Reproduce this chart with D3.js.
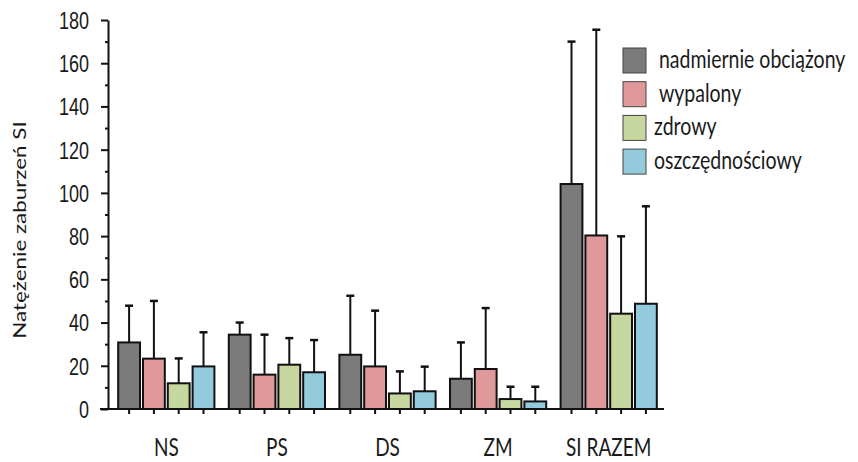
<!DOCTYPE html>
<html>
<head>
<meta charset="utf-8">
<script src="https://cdn.jsdelivr.net/npm/d3@7"></script>
<style>
  body { margin: 0; background: #fff; }
  text { fill: #1a1a1a; }
</style>
</head>
<body>
<div id="chart"></div>
<script>
// categories and series
const categories = ["NS", "PS", "DS", "ZM", "SI RAZEM"];
const seriesNames = ["nadmiernie obciążony", "wypalony", "zdrowy", "oszczędnościowy"];
const seriesColors = ["#7b7b7b", "#e0999a", "#c6d89f", "#93cbdd"];

// means per series (one value per category)
const obciazonyMean = [30.8, 34.4, 25.1, 14.0, 104.1];
const wypalonyMean = [23.3, 15.9, 19.7, 18.5, 80.3];
const zdrowyMean = [11.9, 20.5, 7.2, 4.6, 44.1];
const oszczednMean = [19.7, 17.0, 8.2, 3.5, 48.7];

// standard deviations (upper error bar)
const obciazonySd = [17.0, 5.6, 27.3, 16.8, 65.9];
const wypalonySd = [26.7, 18.5, 25.8, 28.2, 95.2];
const zdrowySd = [11.5, 12.3, 10.2, 5.7, 35.8];
const oszczednSd = [15.8, 14.9, 11.4, 6.8, 45.1];

const yTicks = [0, 20, 40, 60, 80, 100, 120, 140, 160, 180];

const means = [obciazonyMean, wypalonyMean, zdrowyMean, oszczednMean];
const sds = [obciazonySd, wypalonySd, zdrowySd, oszczednSd];

const w = 858;
const h = 462;
const stretch = 1.28; // the source picture is stretched vertically

const svg = d3.select("#chart")
  .append("svg")
  .attr("width", w)
  .attr("height", h);

const y = d3.scaleLinear()
  .domain([0, 180])
  .range([409, 20]);

const x0 = d3.scaleBand()
  .domain(categories)
  .range([111, 664])
  .paddingInner(0.13)
  .paddingOuter(0.065);

const x1 = d3.scaleBand()
  .domain(seriesNames)
  .range([0, x0.bandwidth()])
  .paddingInner(0.12);

// build rows: one per category x series
const rows = [];
categories.forEach((c, ci) => {
  seriesNames.forEach((s, si) => {
    rows.push({ cat: c, series: s, si: si, mean: means[si][ci], sd: sds[si][ci] });
  });
});

const barMid = d => x0(d.cat) + x1(d.series) + x1.bandwidth() / 2;

// error bars (drawn behind bars)
const err = svg.append("g").attr("stroke", "#111").attr("stroke-width", 2);
err.selectAll("line.v")
  .data(rows)
  .enter()
  .append("line")
  .attr("class", "v")
  .attr("x1", barMid)
  .attr("x2", barMid)
  .attr("y1", d => y(d.mean))
  .attr("y2", d => y(d.mean + d.sd));
err.selectAll("line.cap")
  .data(rows)
  .enter()
  .append("line")
  .attr("class", "cap")
  .attr("stroke-width", 2.5)
  .attr("x1", d => barMid(d) - 4)
  .attr("x2", d => barMid(d) + 4)
  .attr("y1", d => y(d.mean + d.sd))
  .attr("y2", d => y(d.mean + d.sd));

// bars
svg.selectAll("rect.bar")
  .data(rows)
  .enter()
  .append("rect")
  .attr("class", "bar")
  .attr("x", d => x0(d.cat) + x1(d.series))
  .attr("y", d => y(d.mean))
  .attr("width", x1.bandwidth())
  .attr("height", d => y(0) - y(d.mean))
  .attr("fill", d => seriesColors[d.si])
  .attr("stroke", "#111")
  .attr("stroke-width", 2);

// y axis
const yAxis = svg.append("g")
  .attr("transform", "translate(108,0)")
  .call(d3.axisLeft(y).tickValues(yTicks).tickSize(7).tickSizeOuter(0).tickPadding(12));
yAxis.select(".domain").attr("stroke", "#111").attr("stroke-width", 2);
yAxis.selectAll(".tick line").attr("stroke", "#111").attr("stroke-width", 2);
yAxis.selectAll(".tick text")
  .attr("font-family", "'Liberation Sans', Arial, sans-serif")
  .attr("font-size", 18)
  .attr("dy", null)
  .attr("y", 0)
  .attr("transform", "scale(1," + stretch + ")")
  .attr("dominant-baseline", "central");

// minor ticks
const minor = svg.append("g")
  .attr("transform", "translate(108,0)")
  .call(d3.axisLeft(y).tickValues(d3.range(10, 180, 20)).tickSize(3).tickFormat(""));
minor.select(".domain").remove();
minor.selectAll(".tick line").attr("stroke", "#111").attr("stroke-width", 2);

// x axis line with a tick under every bar
svg.append("line")
  .attr("x1", 100).attr("x2", 664)
  .attr("y1", y(0)).attr("y2", y(0))
  .attr("stroke", "#111").attr("stroke-width", 2);
svg.append("g").selectAll("line")
  .data(rows)
  .enter()
  .append("line")
  .attr("x1", barMid)
  .attr("x2", barMid)
  .attr("y1", y(0))
  .attr("y2", y(0) + 5)
  .attr("stroke", "#111").attr("stroke-width", 2);

// category labels
svg.append("g").selectAll("text")
  .data(categories)
  .enter()
  .append("text")
  .attr("transform", d => "translate(" + (x0(d) + x0.bandwidth() / 2) + ",456) scale(1," + stretch + ")")
  .attr("text-anchor", "middle")
  .attr("font-family", "Lato, 'Open Sans', sans-serif")
  .attr("font-size", 19)
  .text(d => d);

// y axis title
svg.append("text")
  .attr("transform", "translate(26,230) rotate(-90) scale(" + stretch + ",1)")
  .attr("text-anchor", "middle")
  .attr("font-family", "Lato, 'Open Sans', sans-serif")
  .attr("font-size", 17.5)
  .text("Natężenie zaburzeń SI");

// legend
const legendX = [659, 659, 654, 654];
const legend = svg.append("g").selectAll("g")
  .data(seriesNames)
  .enter()
  .append("g")
  .attr("transform", (d, i) => "translate(623," + (48 + i * 33.7) + ")");
legend.append("rect")
  .attr("width", 23)
  .attr("height", 25)
  .attr("fill", (d, i) => seriesColors[i])
  .attr("stroke", "#444")
  .attr("stroke-width", 1);
legend.append("text")
  .attr("transform", (d, i) => "translate(" + (legendX[i] - 623) + ",20) scale(1," + stretch + ")")
  .attr("font-family", "Lato, 'Open Sans', sans-serif")
  .attr("font-size", 19.5)
  .text(d => d);
</script>
</body>
</html>
